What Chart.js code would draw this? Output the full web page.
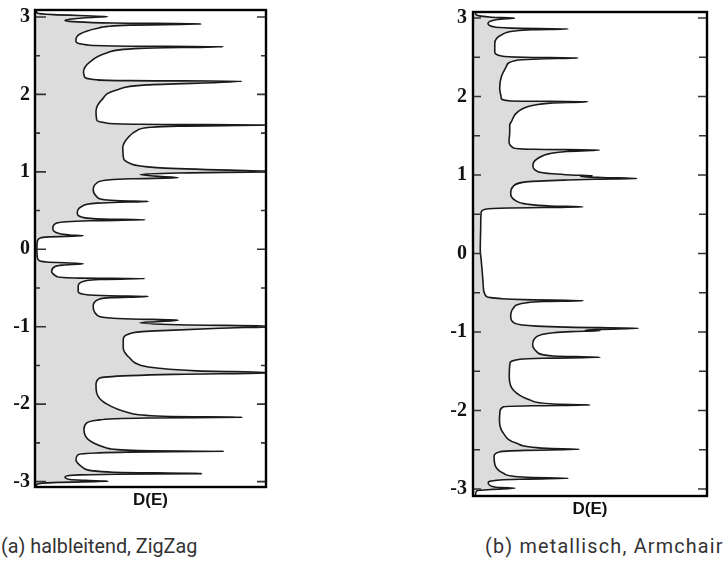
<!DOCTYPE html>
<html>
<head>
<meta charset="utf-8">
<script src="https://cdn.jsdelivr.net/npm/chart.js@4.4.1/dist/chart.umd.min.js"></script>
<style>
  html, body { margin: 0; padding: 0; background: #fff; }
  body { width: 723px; height: 572px; position: relative; overflow: hidden; }
  canvas { position: absolute; top: 0; }
  #dosA { left: 0; }
  #dosB { left: 440px; }
  .caption {
    position: absolute; top: 535px; white-space: nowrap;
    font-family: Roboto, "Liberation Sans", sans-serif; font-size: 19.8px; color: #333;
  }
</style>
</head>
<body>
<canvas id="dosA" width="280" height="520"></canvas>
<canvas id="dosB" width="283" height="530"></canvas>
<div class="caption" style="left:1px">(a) halbleitend, ZigZag</div>
<div class="caption" style="left:485px; letter-spacing:1.2px">(b) metallisch, Armchair</div>
<script>
/* ---- data: energy E (vertical) and density of states D(E) (horizontal, 0..100 = plot width) ---- */
const zigzagE = [3.09, 3.05, 3.03, 3.005, 2.99, 2.97, 2.955, 2.94, 2.922, 2.91, 2.895, 2.85, 2.78, 2.70, 2.67, 2.64, 2.626, 2.617,
  2.595, 2.535, 2.42, 2.29, 2.23, 2.19, 2.178, 2.17, 2.123, 2.058, 1.93, 1.78, 1.67, 1.63, 1.615, 1.605,
  1.59, 1.575, 1.53, 1.45, 1.31, 1.20, 1.11, 1.055, 1.025, 1.005, 0.985, 0.965, 0.945, 0.925, 0.91,
  0.897, 0.854, 0.768, 0.681, 0.64, 0.626, 0.617, 0.605, 0.596, 0.552, 0.467, 0.41, 0.39, 0.38,
  0.368, 0.338, 0.274, 0.20, 0.185, 0.174, 0.16, 0.145, 0.10, 0.0, -0.10, -0.135, -0.165, -0.187,
  -0.205, -0.222, -0.286, -0.351, -0.372, -0.378, -0.39, -0.403, -0.48, -0.545, -0.587, -0.60, -0.609,
  -0.625, -0.643, -0.738, -0.845, -0.888, -0.90, -0.915, -0.935, -0.95, -0.975, -0.995,
  -1.02, -1.05, -1.074, -1.168, -1.275, -1.404, -1.50, -1.533, -1.57, -1.595,
  -1.615, -1.632, -1.662, -1.748, -1.855, -1.985, -2.114, -2.157, -2.17,
  -2.178, -2.209, -2.243, -2.329, -2.458, -2.565, -2.60, -2.609, -2.62, -2.63, -2.652, -2.716, -2.823, -2.88, -2.897,
  -2.905, -2.914, -2.94, -2.974, -2.985, -2.996, -3.01, -3.04, -3.08];
const zigzagD = [0.5, 1, 8, 31.6, 22, 15, 13, 16.6, 34, 72, 41, 26.7, 19.5, 17.7, 18, 22.4, 33.9, 81.5,
  45.5, 31, 23.8, 21, 21.4, 26.5, 41, 89.5, 48.4, 35.4, 28.9, 26.4, 26.7, 31, 45.5, 105,
  62, 50, 44, 40.5, 38, 38.2, 41, 52.6, 80, 105, 62, 45.5, 52, 62, 42,
  32.5, 26.7, 25.2, 26.7, 30, 37, 49, 34, 26.7, 20.2, 18.3, 20.9, 29.6, 47.6,
  23.8, 9.4, 7.7, 10.8, 15, 20.9, 6, 2.2, 1, 0.8, 1, 1.4, 5, 20.9,
  12, 8.7, 7.2, 9.4, 19.5, 47.6, 28, 22.4, 18.7, 18.7, 22.4, 32, 49,
  33, 28, 25.2, 26.7, 32.5, 42, 62, 52, 45.5, 62, 105,
  80, 55, 43, 38.2, 38.2, 41, 46, 52.7, 70, 105,
  60, 41, 28, 26.4, 26.7, 30.3, 41, 55.5, 89.5,
  48.4, 26.7, 22.4, 21.2, 23.1, 31, 45, 81.5, 40, 26.7, 18.7, 17.7, 20.9, 33.9, 72,
  35, 19.5, 13, 15.2, 22, 31.7, 10, 0.7, 0.5];

const armchairE = [3.076, 3.04, 3.01, 2.996, 2.985, 2.975, 2.93, 2.89, 2.87, 2.86, 2.85, 2.834, 2.783, 2.677, 2.571, 2.516, 2.499, 2.49,
  2.478, 2.465, 2.38, 2.252, 2.104, 1.977, 1.943, 1.934, 1.915, 1.892, 1.806, 1.679, 1.637, 1.552, 1.424, 1.348, 1.327, 1.318,
  1.30, 1.276, 1.213, 1.127, 1.042, 1.015, 1.0, 0.99, 0.982, 0.968, 0.955, 0.945, 0.936, 0.915, 0.851, 0.767, 0.682, 0.627, 0.605, 0.593,
  0.58, 0.567, 0.525, 0.363, 0.045, -0.083, -0.423, -0.55, -0.575, -0.588, -0.601,
  -0.612, -0.627, -0.698, -0.805, -0.89, -0.925, -0.938, -0.953, -0.967, -0.977, -0.985, -0.995, -1.009, -1.06, -1.166, -1.251, -1.306, -1.323,
  -1.335, -1.348, -1.399, -1.569, -1.739, -1.866, -1.917, -1.93, -1.94, -1.952, -2.015, -2.121, -2.29, -2.418, -2.482, -2.494,
  -2.508, -2.525, -2.589, -2.694, -2.80, -2.851, -2.864, -2.875, -2.885, -2.92, -2.971, -2.982, -2.991, -3.005, -3.022, -3.089];
const armchairD = [1, 1.4, 8, 17.8, 12, 9.3, 6.4, 8.5, 16.4, 40.6, 25, 17.8, 12.1, 9.3, 9.3, 12.1, 22.1, 44.9,
  28, 19.2, 14.2, 12.1, 11.4, 12.1, 16.4, 49.1, 33, 26.4, 19.2, 16.4, 15.7, 15.7, 15.4, 17.1, 26.4, 54.1,
  40, 33.5, 27.8, 25.6, 27.8, 34, 42, 51, 46, 55, 70, 52, 40.6, 23.5, 17.1, 16.1, 17.8, 23.5, 33, 47,
  15, 5.7, 3.5, 3.3, 3.1, 3.5, 4.4, 5.8, 12, 22, 47.1,
  30, 22.9, 17.2, 16.1, 17.9, 27.2, 40, 70.7, 55, 48, 54.3, 42, 34.3, 27.2, 25.5, 27.2, 34.3, 54.3,
  30, 20.1, 15.8, 15.5, 17.2, 24.4, 34.3, 50, 25, 13, 11.5, 11.3, 13, 18.7, 31.5, 45.4,
  22, 11.5, 9, 9.4, 13, 22.9, 40.7, 20, 11.5, 6.5, 8.7, 12, 17.9, 8, 1.6, 1];

/* ---- frame + inward tick marks on both sides ---- */
const frameTicks = {
  id: 'frameTicks',
  afterDraw(chart, args, opts) {
    const { ctx, chartArea: a } = chart;
    const ys = chart.scales.y;
    ctx.save();
    ctx.strokeStyle = '#333';
    ctx.lineWidth = 1.6;
    ys.ticks.forEach(t => {
      const py = ys.getPixelForValue(t.value);
      const major = Number.isInteger(t.value);
      const lenL = major ? opts.majorL : opts.minorL;
      const lenR = major ? opts.majorR : opts.minorR;
      ctx.beginPath();
      ctx.moveTo(a.left, py); ctx.lineTo(a.left + lenL, py);
      ctx.moveTo(a.right, py); ctx.lineTo(a.right - lenR, py);
      ctx.stroke();
    });
    ctx.strokeStyle = '#000';
    ctx.lineWidth = opts.frame;
    ctx.strokeRect(a.left, a.top, a.right - a.left, a.bottom - a.top);
    ctx.restore();
  }
};

function makeDos(id, E, D, cfg) {
  const ctx = document.getElementById(id).getContext('2d');
  return new Chart(ctx, {
    type: 'line',
    data: {
      datasets: [{
        data: E.map((e, i) => ({ x: D[i], y: e })),
        borderColor: '#1a1a1a',
        borderWidth: 1.6,
        backgroundColor: '#dcdcdc',
        fill: { value: 0 },
        pointRadius: 0,
        cubicInterpolationMode: 'monotone'
      }]
    },
    options: {
      responsive: false,
      animation: false,
      indexAxis: 'y',
      layout: { padding: { top: cfg.top, right: cfg.right, left: 0, bottom: 0 } },
      plugins: {
        legend: { display: false },
        tooltip: { enabled: false },
        frameTicks: { majorL: cfg.majorL, minorL: cfg.minorL, majorR: cfg.majorR, minorR: cfg.minorR, frame: 2.4 }
      },
      scales: {
        x: {
          type: 'linear', min: 0, max: 100,
          grid: { display: false }, border: { display: false },
          ticks: { display: false },
          title: {
            display: true, text: 'D(E)', color: '#111',
            font: { family: '"Liberation Sans", Arial, sans-serif', size: 17, weight: 'bold' },
            padding: { top: 0, bottom: cfg.titlePad }
          },
          afterFit: s => { s.height = cfg.xHeight; }
        },
        y: {
          type: 'linear', min: cfg.yMin, max: cfg.yMax,
          grid: { display: false, drawTicks: false }, border: { display: false },
          ticks: {
            stepSize: 0.5, includeBounds: false, autoSkip: false, padding: cfg.labelPad,
            color: '#111',
            font: { family: '"Liberation Serif", "Times New Roman", serif', size: 20, weight: 'bold' },
            callback: v => Number.isInteger(v) ? String(v) : ''
          },
          afterFit: s => { s.width = cfg.yWidth; s.paddingTop = 0; s.paddingBottom = 0; }
        }
      }
    },
    plugins: [frameTicks]
  });
}

makeDos('dosA', zigzagE, zigzagD, {
  top: 10, right: 14, yWidth: 35, xHeight: 33, titlePad: 9, labelPad: 5,
  yMin: -3.07, yMax: 3.09, majorL: 11, minorL: 5, majorR: 9, minorR: 5
});
makeDos('dosB', armchairE, armchairD, {
  top: 12, right: 16, yWidth: 33, xHeight: 34, titlePad: 10, labelPad: 6,
  yMin: -3.089, yMax: 3.076, majorL: 8, minorL: 7, majorR: 9, minorR: 8
});
</script>
</body>
</html>
